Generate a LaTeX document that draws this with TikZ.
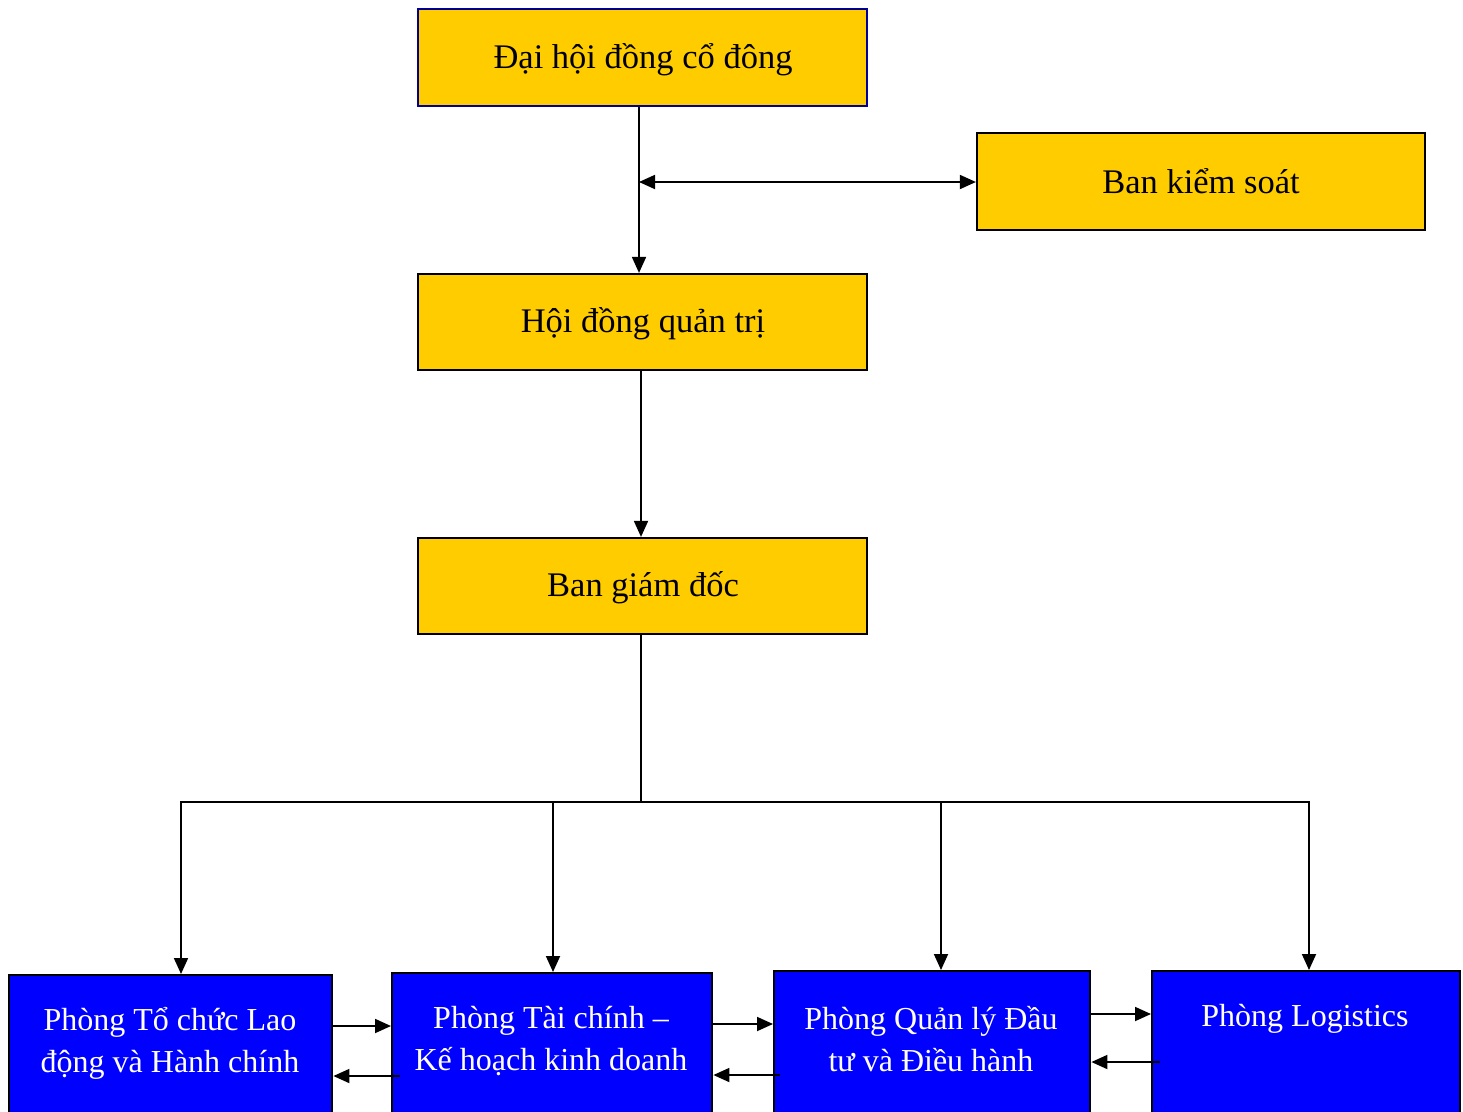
\documentclass[tikz,border=0pt]{standalone}
\usepackage{fontspec}
\setmainfont{Liberation Serif}
\usetikzlibrary{arrows.meta}
\definecolor{boxyellow}{HTML}{FFCC00}
\definecolor{boxblue}{HTML}{0000FF}
\definecolor{navyedge}{HTML}{000099}
\begin{document}
\begin{tikzpicture}[x=1pt,y=-1pt,
  ybox/.style={draw=black,line width=2.2pt,fill=boxyellow,rectangle,inner sep=0pt},
  bbox/.style={draw=black,line width=2.4pt,fill=boxblue,rectangle,inner sep=0pt},
  ytext/.style={font=\fontsize{34.5}{40}\selectfont,text=black},
  btext/.style={font=\fontsize{32}{42}\selectfont,text=white,align=center},
  conn/.style={draw=black,line width=1.8pt},
  arr/.style={conn,-{Triangle[length=16pt,width=14pt]}},
  darr/.style={conn,{Triangle[length=16pt,width=14pt]}-{Triangle[length=16pt,width=14pt]}}]
\useasboundingbox (0,0) rectangle (1463,1111);
% yellow boxes
\node[ybox,draw=navyedge,line width=2.6pt,minimum width=449pt,minimum height=97pt] (dh) at (642.5,57.5) {};
\node[ytext] at (643,60) {Đại hội đồng cổ đông};
\node[ybox,minimum width=448pt,minimum height=97pt] (bks) at (1201,181.5) {};
\node[ytext] at (1201,181) {Ban kiểm soát};
\node[ybox,minimum width=449pt,minimum height=96pt] (hd) at (642.5,322) {};
\node[ytext] at (643,324) {Hội đồng quản trị};
\node[ybox,minimum width=449pt,minimum height=96pt] (bg) at (642.5,586) {};
\node[ytext] at (643,588) {Ban giám đốc};
% blue boxes
\node[bbox,minimum width=323pt,minimum height=150pt,anchor=north west] (p1) at (8,974) {};
\node[btext] at (170,1043) {Phòng Tổ chức Lao\\động và Hành chính};
\node[bbox,minimum width=320pt,minimum height=150pt,anchor=north west] (p2) at (391,972) {};
\node[btext] at (551,1041) {Phòng Tài chính –\\Kế hoạch kinh doanh};
\node[bbox,minimum width=316pt,minimum height=150pt,anchor=north west] (p3) at (773,970) {};
\node[btext] at (931,1039) {Phòng Quản lý Đầu\\tư và Điều hành};
\node[bbox,minimum width=308pt,minimum height=150pt,anchor=north west] (p4) at (1151,970) {};
\node[btext] at (1305,1019) {Phòng Logistics};
% coordinates
\coordinate (j1) at (639,182);
\coordinate (bus) at (641,802);
% top connectors
\draw[arr] (dh.south -| j1) -- (hd.north -| j1);
\draw[darr] (j1) -- (bks.west |- j1);
\draw[arr] (hd.south -| bus) -- (bg.north -| bus);
\draw[conn] (bg.south -| bus) -- (bus);
\coordinate (b1) at (181,802);
\coordinate (b2) at (553,802);
\coordinate (b3) at (941,802);
\coordinate (b4) at (1309,802);
\draw[conn,line cap=rect] (b1) -- (b4);
\draw[arr] (b1) -- (p1.north -| b1);
\draw[arr] (b2) -- (p2.north -| b2);
\draw[arr] (b3) -- (p3.north -| b3);
\draw[arr] (b4) -- (p4.north -| b4);
% horizontal connectors between departments
\coordinate (h1a) at (331,1026);
\coordinate (h1b) at (400,1076);
\draw[arr] (h1a) -- (p2.west |- h1a);
\draw[arr] (h1b) -- (p1.east |- h1b);
\coordinate (h2a) at (711,1024);
\coordinate (h2b) at (780,1075);
\draw[arr] (h2a) -- (p3.west |- h2a);
\draw[arr] (h2b) -- (p2.east |- h2b);
\coordinate (h3a) at (1089,1014);
\coordinate (h3b) at (1160,1062);
\draw[arr] (h3a) -- (p4.west |- h3a);
\draw[arr] (h3b) -- (p3.east |- h3b);
\end{tikzpicture}
\end{document}
